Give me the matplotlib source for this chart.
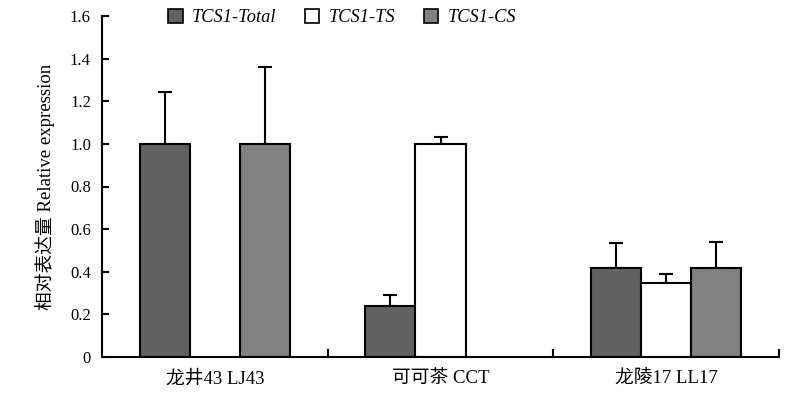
import matplotlib
matplotlib.use("Agg")
import matplotlib.pyplot as plt
import numpy as np

plt.rcParams["font.family"] = ["Liberation Serif", "Noto Sans CJK SC"]

# ---- data ---------------------------------------------------------------
groups = ["龙井43 LJ43", "可可茶 CCT", "龙陵17 LL17"]
series = ["TCS1-Total", "TCS1-TS", "TCS1-CS"]
total_vals = [1.0, 0.241, 0.419]
total_err = [0.245, 0.051, 0.116]
ts_vals = [0.0, 1.0, 0.346]
ts_err = [0.0, 0.033, 0.045]
cs_vals = [1.0, 0.0, 0.419]
cs_err = [0.361, 0.0, 0.122]

colors = ["#616161", "#ffffff", "#818181"]

# ---- figure -------------------------------------------------------------
fig = plt.figure(figsize=(7.9, 3.95), dpi=100)
ax = fig.add_axes([102 / 790, 1 - 357 / 395, 677 / 790, 341 / 395])

x = np.arange(len(groups)) + 0.5
w = 0.222
vals = [total_vals, ts_vals, cs_vals]
errs = [total_err, ts_err, cs_err]
for i, (v, e) in enumerate(zip(vals, errs)):
    pos = x + (i - 1) * w
    v = np.array(v)
    e = np.array(e)
    keep = v > 0
    ax.bar(pos[keep], v[keep], width=w, color=colors[i], edgecolor="black",
           linewidth=1.5, label=series[i], zorder=2)
    # one-sided (upper) error bars
    ax.errorbar(pos[keep], v[keep], yerr=[np.zeros(keep.sum()), e[keep]],
                fmt="none", ecolor="black", elinewidth=1.5, capsize=5,
                capthick=1.5, zorder=1)

ax.set_xlim(0, 3)
ax.set_ylim(0, 1.6)
yt = np.arange(0, 1.61, 0.2)
ax.set_yticks(yt)
ax.set_yticklabels([f"{t:.1f}" if t > 0 else "0" for t in yt])
ax.set_xticks([1, 2, 3])
ax.set_xticklabels([])
for xi, g in zip(x, groups):
    ax.text(xi, -0.06, g, ha="center", va="top", fontsize=13.5)

ax.spines["top"].set_visible(False)
ax.spines["right"].set_visible(False)
for s in ["left", "bottom"]:
    ax.spines[s].set_linewidth(1.5)
ax.tick_params(axis="y", direction="in", length=5, width=1.5, labelsize=12, pad=8)
ax.tick_params(axis="x", direction="in", length=6, width=1.5)

ax.set_ylabel("相对表达量 Relative expression", fontsize=13.5, labelpad=11)

leg = ax.legend(ncol=3, loc="upper left", bbox_to_anchor=(0.073, 1.07),
                frameon=False, handlelength=0.8, handleheight=0.8,
                handletextpad=0.5, columnspacing=1.55,
                prop={"family": ["Liberation Serif"], "style": "italic", "size": 13.2})
for h in leg.legend_handles:
    h.set_linewidth(1.2)

fig.savefig("out.png", dpi=100)
